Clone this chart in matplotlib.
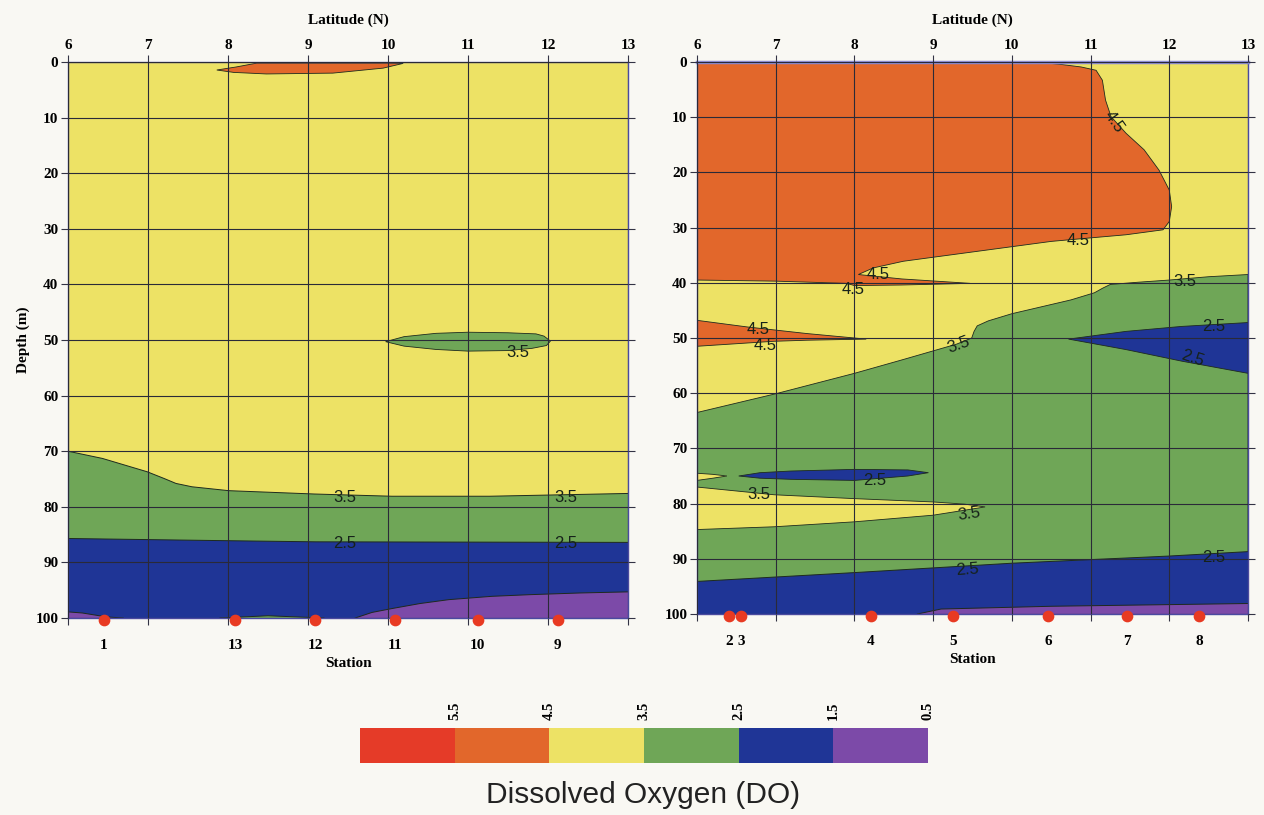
import matplotlib
matplotlib.use("Agg")
import matplotlib.pyplot as plt
from matplotlib.colors import ListedColormap, BoundaryNorm
from matplotlib.cm import ScalarMappable

# ---------------- data ----------------
LAT_TICKS = [6, 7, 8, 9, 10, 11, 12, 13]
DEPTH_TICKS = [0, 10, 20, 30, 40, 50, 60, 70, 80, 90, 100]

# colour classes (DO)
DO_BOUNDS = [0.5, 1.5, 2.5, 3.5, 4.5, 5.5, 6.5]
DO_COLORS = ["#7c4aa8", "#1f3596", "#6fa657", "#ede265", "#e2672b", "#e53b28"]
CBAR_TICKS = [5.5, 4.5, 3.5, 2.5, 1.5, 0.5]

# ---- left panel ----
L_station_lat = [6.45, 8.09, 9.09, 10.09, 11.12, 12.12]
L_station_lab = ["1", "13", "12", "11", "10", "9"]

L_c35_lat = [6.0, 6.43, 6.99, 7.2, 7.35, 7.55, 8.01, 9.08, 10.05, 11.27, 13.0]
L_c35_dep = [70.0, 71.3, 73.7, 74.9, 75.8, 76.4, 77.1, 77.7, 78.1, 78.1, 77.6]

L_c25_lat = [6.0, 8.01, 9.1, 13.0]
L_c25_dep = [85.7, 86.1, 86.3, 86.4]

L_c15r_lat = [9.59, 9.8, 10.05, 10.4, 10.76, 11.3, 11.78, 12.4, 13.0]
L_c15r_dep = [100.0, 99.0, 98.3, 97.4, 96.7, 96.1, 95.8, 95.5, 95.3]

L_c15l_lat = [6.0, 6.18, 6.48, 6.69]
L_c15l_dep = [98.9, 99.1, 99.8, 100.0]

L_sliver_lat = [7.9, 8.5, 9.2]
L_sliver_dep = [100.0, 99.6, 100.0]

L_or_lat = [7.86, 8.1, 8.36, 9.0, 10.0, 10.19, 9.94, 9.31, 8.48, 8.07, 7.86]
L_or_dep = [1.44, 0.9, 0.2, 0.2, 0.2, 0.25, 1.1, 2.0, 2.15, 1.87, 1.44]

L_gl_lat = [9.97, 10.2, 10.6, 11.0, 11.5, 11.85, 11.95, 12.03, 11.98, 11.8, 11.5, 11.0, 10.6, 10.2, 9.97]
L_gl_dep = [50.3, 49.4, 48.8, 48.6, 48.7, 48.9, 49.3, 50.2, 51.0, 51.5, 51.9, 52.0, 51.7, 51.1, 50.3]

L_labels_lat = [9.46, 12.22, 9.46, 12.22, 11.62]
L_labels_dep = [78.3, 78.3, 86.6, 86.6, 52.2]
L_labels_txt = ["3.5", "3.5", "2.5", "2.5", "3.5"]
L_labels_rot = [0, 0, 0, 0, 0]

# ---- right panel ----
R_station_lat = [6.41, 6.56, 8.21, 9.25, 10.46, 11.46, 12.38]
R_station_lab = ["2", "3", "4", "5", "6", "7", "8"]

R_or1_lat = [6.0, 10.29, 10.6, 10.88, 11.07, 11.15, 11.19, 11.26, 11.45, 11.68, 11.87, 12.0,
             12.03, 12.0, 11.92, 11.45, 10.97, 10.50, 10.03, 9.56, 9.09, 8.62, 8.24, 8.05,
             8.6, 9.47, 8.6, 8.0, 7.9, 7.0, 6.0]
R_or1_dep = [0.0, 0.0, 0.4, 0.9, 1.5, 3.3, 6.9, 9.9, 12.9, 15.9, 19.6, 23.2,
             26.2, 28.9, 30.4, 31.3, 31.9, 32.5, 33.4, 34.3, 35.2, 36.1, 37.3, 38.5,
             39.3, 40.1, 40.4, 40.5, 40.1, 39.7, 39.5]

R_or2_lat = [6.0, 6.64, 7.4, 8.15, 7.4, 6.97, 6.0]
R_or2_dep = [46.8, 48.0, 49.2, 50.2, 50.4, 50.6, 51.5]

R_c35_lat = [13.0, 12.5, 12.0, 11.6, 11.25, 11.15, 11.05, 10.75, 10.3, 10.0, 9.7, 9.56, 9.52,
             9.49, 9.3, 8.62, 8.0, 7.0, 6.0]
R_c35_dep = [38.5, 38.9, 39.5, 39.9, 40.3, 41.0, 41.8, 43.1, 44.6, 45.6, 46.9, 47.8, 48.8,
             50.0, 51.1, 53.9, 56.4, 60.1, 63.5]

R_yw_lat = [6.0, 6.2, 6.38, 6.2, 6.0]
R_yw_dep = [74.5, 74.7, 75.0, 75.4, 75.8]

R_yb_lat = [6.0, 6.98, 8.0, 9.0, 9.4, 9.66, 9.4, 9.0, 8.0, 6.98, 6.0]
R_yb_dep = [77.0, 78.4, 79.1, 79.7, 80.1, 80.6, 81.2, 82.1, 83.3, 84.2, 84.7]

R_bm_lat = [6.53, 6.8, 7.19, 8.0, 8.68, 8.94, 8.68, 8.0, 7.19, 6.8, 6.53]
R_bm_dep = [75.0, 74.4, 74.1, 73.8, 73.9, 74.4, 75.0, 75.8, 75.6, 75.4, 75.0]

R_br_lat = [10.72, 11.45, 12.16, 13.0, 13.0, 12.16, 11.45, 10.72]
R_br_dep = [50.2, 48.8, 47.9, 47.2, 56.4, 54.2, 52.1, 50.2]

R_c25_lat = [6.0, 8.0, 10.0, 12.0, 13.0]
R_c25_dep = [94.1, 92.5, 90.8, 89.5, 88.7]

R_c15_lat = [8.8, 9.1, 10.5, 13.0]
R_c15_dep = [100.0, 99.1, 98.6, 98.1]

R_labels_lat = [11.3, 10.84, 8.3, 7.98, 6.78, 6.86, 12.2, 12.56, 12.29, 9.32, 8.26, 6.78, 9.46, 9.44, 12.56]
R_labels_dep = [10.9, 32.4, 38.5, 41.2, 48.5, 51.4, 39.7, 48.0, 53.6, 51.3, 75.9, 78.3, 81.9, 92.0, 89.7]
R_labels_txt = ["4.5", "4.5", "4.5", "4.5", "4.5", "4.5", "3.5", "2.5", "2.5", "3.5", "2.5", "3.5", "3.5", "2.5", "2.5"]
R_labels_rot = [-55, 0, 0, 0, 0, 0, 0, 0, -18, 20, 0, 0, 8, 4, 0]

# ---------------- styling ----------------
BG = "#f9f8f3"
EDGE = "#1e2a1e"
SERIF = ["Liberation Serif", "DejaVu Serif"]
SANS = ["Liberation Sans", "DejaVu Sans"]
YELLOW, ORANGE, GREEN, BLUE, PURPLE = DO_COLORS[3], DO_COLORS[4], DO_COLORS[2], DO_COLORS[1], DO_COLORS[0]

fig = plt.figure(figsize=(12.64, 8.15), dpi=100, facecolor=BG)
axL = fig.add_axes([68 / 1264, 1 - 618 / 815, 560 / 1264, 556 / 815])
axR = fig.add_axes([697 / 1264, 1 - 614 / 815, 551 / 1264, 552 / 815])


def poly(ax, lat, dep, color):
    ax.fill(lat, dep, facecolor=color, edgecolor=EDGE, linewidth=0.6, zorder=1)


def band(ax, lat, dep, color):
    ax.fill_between(lat, dep, 100, facecolor=color, edgecolor="none", zorder=1)
    ax.plot(lat, dep, color=EDGE, linewidth=0.7, zorder=1.5)


def style(ax, st_lat, st_lab, ylabel):
    ax.set_xlim(6, 13)
    ax.set_ylim(100, 0)
    ax.set_facecolor(YELLOW)
    ax.set_xticks(LAT_TICKS)
    ax.set_yticks(DEPTH_TICKS)
    ax.set_axisbelow(False)
    ax.grid(True, color="#2a2a38", linewidth=0.8)
    ax.tick_params(top=True, bottom=True, left=True, right=True,
                   labeltop=True, labelbottom=False, direction="out",
                   length=5, width=0.8, color="#333344", pad=2)
    for lab in ax.get_xticklabels() + ax.get_yticklabels():
        lab.set_fontfamily(SERIF)
        lab.set_fontweight("bold")
        lab.set_fontsize(11)
    ax.xaxis.set_label_position("top")
    ax.set_xlabel("Latitude (N)", fontfamily=SERIF, fontweight="bold", fontsize=11, labelpad=11)
    if ylabel:
        ax.set_ylabel(ylabel, fontfamily=SERIF, fontweight="bold", fontsize=11, labelpad=4)
    for s in ax.spines.values():
        s.set_color("#4a4aa0")
        s.set_linewidth(1.0)
    ax.scatter(st_lat, [100.4] * len(st_lat), s=55, color="#e83a22", zorder=6, clip_on=False)
    sec = ax.secondary_xaxis("bottom")
    sec.set_xticks(st_lat, labels=st_lab)
    sec.tick_params(length=0, pad=15)
    sec.spines["bottom"].set_visible(False)
    for lab in sec.get_xticklabels():
        lab.set_fontfamily(SERIF)
        lab.set_fontweight("bold")
        lab.set_fontsize(11)
    sec.set_xlabel("Station", fontfamily=SERIF, fontweight="bold", fontsize=11, labelpad=4)


def labels(ax, lat, dep, txt, rot):
    for x, y, t, r in zip(lat, dep, txt, rot):
        ax.text(x, y, t, fontsize=12, fontfamily=SANS, color="#16221a",
                ha="center", va="center", rotation=r, zorder=5)


# ---- left panel ----
band(axL, L_c35_lat, L_c35_dep, GREEN)
band(axL, L_c25_lat, L_c25_dep, BLUE)
band(axL, L_c15r_lat, L_c15r_dep, PURPLE)
band(axL, L_c15l_lat, L_c15l_dep, PURPLE)
band(axL, L_sliver_lat, L_sliver_dep, GREEN)
poly(axL, L_or_lat, L_or_dep, ORANGE)
poly(axL, L_gl_lat, L_gl_dep, GREEN)
labels(axL, L_labels_lat, L_labels_dep, L_labels_txt, L_labels_rot)
style(axL, L_station_lat, L_station_lab, "Depth (m)")

# ---- right panel ----
poly(axR, R_or1_lat, R_or1_dep, ORANGE)
poly(axR, R_or2_lat, R_or2_dep, ORANGE)
poly(axR, R_c35_lat + [6.0, 13.0], R_c35_dep + [100.0, 100.0], GREEN)
poly(axR, R_yw_lat, R_yw_dep, YELLOW)
poly(axR, R_yb_lat, R_yb_dep, YELLOW)
poly(axR, R_bm_lat, R_bm_dep, BLUE)
poly(axR, R_br_lat, R_br_dep, BLUE)
band(axR, R_c25_lat, R_c25_dep, BLUE)
band(axR, R_c15_lat, R_c15_dep, PURPLE)
labels(axR, R_labels_lat, R_labels_dep, R_labels_txt, R_labels_rot)
style(axR, R_station_lat, R_station_lab, None)
axR.spines["top"].set_color("#8a8ad0")
axR.spines["top"].set_linewidth(2.5)
axR.spines["top"].set_linestyle((0, (1, 1)))

# ---- colour bar ----
cax = fig.add_axes([360 / 1264, 1 - 763 / 815, 568 / 1264, 35 / 815])
cmap = ListedColormap(DO_COLORS)
norm = BoundaryNorm(DO_BOUNDS, cmap.N)
cb = fig.colorbar(ScalarMappable(norm=norm, cmap=cmap), cax=cax, orientation="horizontal",
                  ticks=CBAR_TICKS)
cb.outline.set_visible(False)
cax.minorticks_off()
cax.invert_xaxis()
cax.xaxis.set_ticks_position("top")
cax.tick_params(which="both", length=0, pad=6)
for s in cax.spines.values():
    s.set_visible(False)
cax.set_xticklabels([f"{v:.1f}" for v in CBAR_TICKS], rotation=90,
                    fontfamily=SERIF, fontweight="bold", fontsize=10.5)

fig.text(643.5 / 1264, 1 - 795 / 815, "Dissolved Oxygen (DO)", ha="center", va="center",
         fontsize=21.5, fontfamily=SANS, color="#222222")

fig.savefig("out.png", dpi=100, facecolor=BG)
